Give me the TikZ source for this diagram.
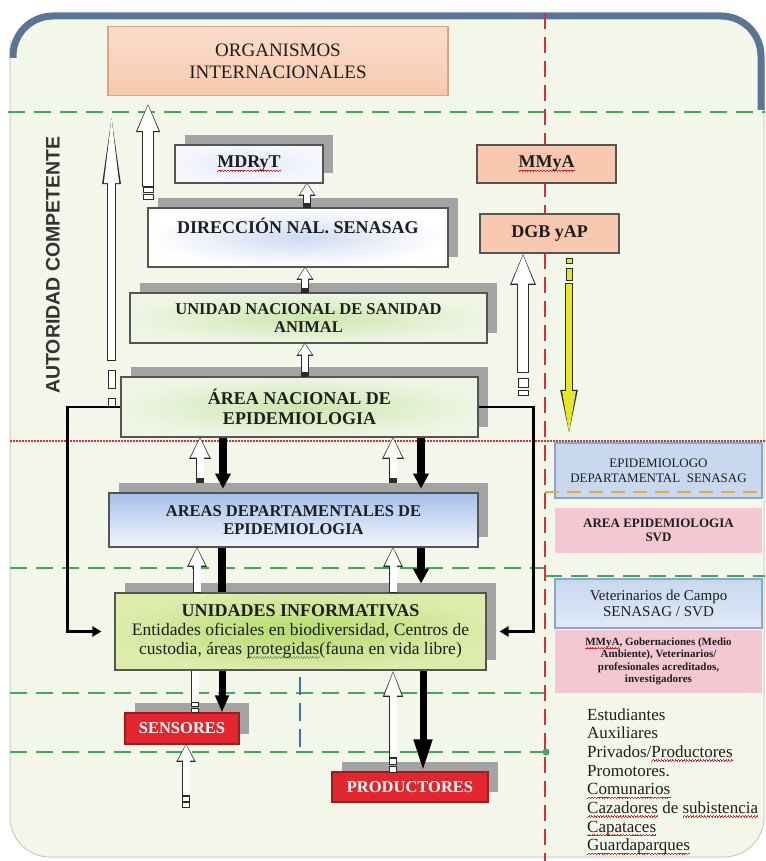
\documentclass[tikz,border=0pt]{standalone}
\usepackage{fontspec}
\setmainfont{Liberation Serif}
\newfontfamily\autfont{Liberation Sans}
\usetikzlibrary{arrows.meta,shadows}

\definecolor{bgfill}{HTML}{F2F7EA}
\definecolor{framegray}{HTML}{C9CCC4}
\definecolor{bluebar}{HTML}{5C7596}
\definecolor{boxline}{HTML}{555555}
\definecolor{txt}{HTML}{1E1E1E}
\definecolor{autgray}{HTML}{333333}
\definecolor{shadowgray}{HTML}{A3A3A3}
\definecolor{salmon}{HTML}{F8C9AE}
\definecolor{salmonlt}{HTML}{FBDDCC}
\definecolor{salmonln}{HTML}{E2A384}
\definecolor{sepgreen}{HTML}{41AC55}
\definecolor{sepred}{HTML}{D42F3B}
\definecolor{sepblue}{HTML}{3E6FBF}
\definecolor{seporange}{HTML}{F0A733}
\definecolor{arrline}{HTML}{2B2B2B}
\definecolor{paleblue}{HTML}{F5F7FC}
\definecolor{cloudblue}{HTML}{CFDBF2}
\definecolor{palegreen}{HTML}{EEF5E4}
\definecolor{cloudgreen}{HTML}{CDE6AE}
\definecolor{depttop}{HTML}{A6C0EA}
\definecolor{deptbot}{HTML}{F2F6FC}
\definecolor{uiout}{HTML}{DDEBAB}
\definecolor{uiin}{HTML}{B5DC6C}
\definecolor{alarm}{HTML}{E3252D}
\definecolor{alarmln}{HTML}{9E1A1F}
\definecolor{epiblue}{HTML}{C7D8EF}
\definecolor{epiln}{HTML}{8CA6C7}
\definecolor{rosa}{HTML}{F3C8D2}
\definecolor{arryellow}{HTML}{E6E622}
\definecolor{spellred}{HTML}{E0202A}
\definecolor{gramgreen}{HTML}{7FA07F}

% wavy proofing marks under words
\newsavebox\wavybox
\newcommand\wavy[2]{\sbox\wavybox{#2}\rlap{\textcolor{#1}{\hbox to \wd\wavybox{\xleaders\hbox{\rule[-3.8pt]{0.7pt}{0.7pt}\rule[-3.2pt]{0.7pt}{0.7pt}\rule[-2.6pt]{0.7pt}{0.7pt}\rule[-3.2pt]{0.7pt}{0.7pt}}\hfill}}}\usebox\wavybox}
\newcommand\spell[1]{\wavy{spellred}{#1}}
\newcommand\gram[1]{\wavy{gramgreen}{#1}}

\pgfdeclarelayer{bg}
\pgfdeclarelayer{under}
\pgfsetlayers{bg,under,main}

\tikzset{
  box/.style={draw=boxline, line width=1.2pt, inner sep=0pt, align=center, text=txt},
  shad/.style={drop shadow={shadow xshift=10pt, shadow yshift=10pt, fill=shadowgray, opacity=1}},
  big/.style={font=\bfseries\fontsize{18}{20}\selectfont},
  mid/.style={font=\bfseries\fontsize{16.5}{18}\selectfont},
  alarmbox/.style={box, draw=alarmln, fill=alarm, text=white, font=\bfseries\fontsize{16.5}{18}\selectfont},
  side/.style={inner sep=0pt, align=center, text=txt, minimum width=207},
  gdash/.style={sepgreen, line width=2.6pt, dash pattern=on 17pt off 9pt},
  rdash/.style={sepred, line width=2.5pt, dash pattern=on 16pt off 8pt},
  rdot/.style={sepred, line width=2pt, dash pattern=on 1.5pt off 1.5pt},
  odash/.style={seporange, line width=2.2pt, dash pattern=on 14pt off 8pt},
  bdash/.style={sepblue, line width=1.8pt, dash pattern=on 18pt off 8pt},
  dn/.style n args={3}{black, line width=#1pt, -{Triangle[length=#3pt,width=#2pt]}},
  link/.style={black, line width=2.6pt, -{Triangle[length=9pt,width=10pt]}},
  stripe/.style={draw=arrline, line width=0.9pt},
  hbar/.style={draw=white, line width=7pt, preaction={draw=arrline, line width=8.8pt}},
  hollow/.code n args={4}{%
    \pgfmathsetmacro\hsw{#1+1.8}%
    \pgfmathsetmacro\hhw{#2+3}%
    \pgfmathsetmacro\hhl{#3+2.2}%
    \tikzset{draw=#4, line width=#1pt, -{Triangle[length=#3pt,width=#2pt]},
      preaction={draw=arrline, line width=\hsw pt, -{Triangle[length=\hhl pt,width=\hhw pt]},
        shorten >=-1pt, shorten <=-0.9pt}}},
}

\begin{document}
\begin{tikzpicture}[x=1pt,y=-1pt]
\useasboundingbox (0,0) rectangle (765,861);

\begin{pgfonlayer}{bg}
% frame
\fill[bgfill, rounded corners=40pt] (10,14) rectangle (764,857);
\draw[framegray, line width=1pt, rounded corners=40pt] (10,40) -- (10,857) -- (764,857) -- (764,60);
\draw[bluebar, line width=7pt, rounded corners=40pt] (13,58) -- (13,16) -- (761,16) -- (761,110);

% separators
\draw[gdash] (8,112) -- (765,112);
\draw[gdash] (10,568) -- (545,568);
\draw[gdash] (545,576) -- (765,576);
\draw[gdash] (10,693) -- (545,693);
\draw[gdash] (10,752) -- (545,752);
\fill[sepgreen] (546,752) circle[radius=3.5pt];
\draw[rdot] (10,441) -- (765,441);
\draw[bdash] (300,677) -- (300,753);
\draw[rdash] (545,13) -- (545,861);
\end{pgfonlayer}

\node[rotate=90, text=autgray, font=\autfont\bfseries\fontsize{19.5}{20}\selectfont] (aut) at (53,265) {AUTORIDAD COMPETENTE};

% main column
\node[box, draw=salmonln, top color=salmonlt, bottom color=salmon, minimum width=340, minimum height=69,
  font=\fontsize{19}{22}\selectfont] (org) at (278,61) {ORGANISMOS\\INTERNACIONALES};
\node[box, shad, inner color=cloudblue!60, outer color=paleblue, minimum width=148, minimum height=38, big] (mdr) at (249,164) {\spell{MDRyT}};
\node[box, shad, inner color=cloudblue, outer color=white, minimum width=300, minimum height=59, big] (dir) at (298,237.5) {DIRECCIÓN NAL. SENASAG\\[4pt]\mbox{}};
\node[box, shad, inner color=cloudgreen, outer color=palegreen, minimum width=357, minimum height=50, mid] (uns) at (308.5,318) {UNIDAD NACIONAL DE SANIDAD\\ANIMAL};
\node[box, shad, inner color=cloudgreen, outer color=palegreen, minimum width=357, minimum height=60, big] (ane) at (299.5,407) {ÁREA NACIONAL DE\\EPIDEMIOLOGIA};
\node[box, shad, top color=depttop, bottom color=deptbot, minimum width=369, minimum height=54, mid] (ade) at (293.5,520) {AREAS DEPARTAMENTALES DE\\EPIDEMIOLOGIA};
\node[box, shad, inner color=uiin, outer color=uiout, minimum width=371, minimum height=77,
  font=\fontsize{17.5}{19}\selectfont] (uni) at (300.5,631.5)
  {{\bfseries\fontsize{18}{19}\selectfont UNIDADES INFORMATIVAS}\\Entidades oficiales en biodiversidad, Centros de\\custodia, áreas \gram{protegidas}(fauna en vida libre)};
\node[alarmbox, shad, minimum width=114, minimum height=31] (sen) at (182,728.5) {SENSORES};
\node[alarmbox, shad, minimum width=156, minimum height=30] (pro) at (410,787) {PRODUCTORES};

% ministries
\node[box, fill=salmon, minimum width=139, minimum height=38, big] (mma) at (546.5,164) {\spell{MMyA}};
\node[box, fill=salmon, minimum width=139, minimum height=39, big] (dgb) at (549.5,233.5) {DGB yAP};

% right column
\node[side, draw=epiln, line width=1.2pt, fill=epiblue, minimum height=55, font=\fontsize{13}{15}\selectfont] (epi) at (658.5,470.5) {EPIDEMIOLOGO\\DEPARTAMENTAL\ \ SENASAG};
\draw[odash] (545,492) -- (762,492);
\node[side, fill=rosa, minimum height=45, font=\bfseries\fontsize{13}{14.5}\selectfont] (svd) at (658.5,530.5) {AREA EPIDEMIOLOGIA\\SVD};
\node[side, draw=epiln, line width=1.2pt, top color=epiblue, bottom color=epiblue!55!white, minimum height=49, font=\fontsize{15}{15.5}\selectfont] (vet) at (658.5,603.5) {Veterinarios de Campo\\SENASAG / SVD};
\node[side, fill=rosa, minimum height=63, font=\bfseries\fontsize{11}{12.5}\selectfont] (gob) at (658.5,661.5) {\spell{MMyA}, Gobernaciones (Medio\\Ambiente), Veterinarios/\\profesionales acreditados,\\investigadores};
\node[anchor=north west, inner sep=0pt, align=left, text=txt, font=\fontsize{17}{18.7}\selectfont] (lst) at (587,708)
  {Estudiantes\\Auxiliares\\Privados/\spell{Productores}\\Promotores.\\\spell{Comunarios}\\\spell{Cazadores} de \spell{subistencia}\\\spell{Capataces}\\\spell{Guardaparques}};

% arrows hidden under the departmental box
\begin{pgfonlayer}{under}
\draw[hollow={7}{17}{20}{white}] ([xshift=-93.5pt]ade.north) -- ([xshift=-93.5pt]ade.north |- ane.south);
\draw[hollow={7}{17}{20}{white}] ([xshift=99.5pt]ade.north) -- ([xshift=99.5pt]ade.north |- ane.south);
\fill[arrline] (196.5,478) rectangle (203.5,483);
\fill[arrline] (389.5,478) rectangle (396.5,483);
\end{pgfonlayer}

% small upward arrows
\draw[hollow={6}{13}{11}{white}] ([xshift=9pt]dir.north) -- ([xshift=9pt]dir.north |- mdr.south);
\draw[hollow={6}{13}{11}{white}] ([xshift=-3.5pt]uns.north) -- ([xshift=-3.5pt]uns.north |- dir.south);
\draw[hollow={6}{13}{11}{white}] ([xshift=5.5pt]ane.north) -- ([xshift=5.5pt]ane.north |- uns.south);
\fill[arrline] (304,203) rectangle (310,208);
\fill[arrline] (302,288) rectangle (308,293);
\fill[arrline] (302,372) rectangle (308,377);
\draw[hollow={7}{15}{18}{white}] ([xshift=-103.5pt]uni.north) -- ([xshift=-103.5pt]uni.north |- ade.south);
\draw[hollow={7}{15}{18}{white}] ([xshift=92.5pt]uni.north) -- ([xshift=92.5pt]uni.north |- ade.south);

% downward flow
\draw[dn={8}{15}{15}] ([xshift=-76.5pt]ane.south) -- ++(0,51);
\draw[dn={8}{15}{15}] ([xshift=121.5pt]ane.south) -- ++(0,51);
\draw[black, line width=8pt] ([xshift=-71.5pt]ade.south) -- ++(0,44);
\draw[dn={8}{15}{15}] ([xshift=127.5pt]ade.south) -- ++(0,36);
\draw[dn={7}{13}{17}] ([xshift=-78.5pt]uni.south) -- ([xshift=-78.5pt]uni.south |- sen.north);
\draw[dn={7}{17}{32}] ([xshift=122.5pt]uni.south) -- ([xshift=122.5pt]uni.south |- pro.north);

% sensors and producers
\draw[hbar] ([xshift=-105.5pt]uni.south) -- ++(0,32);
\draw[stripe, fill=white] (191.5,702) rectangle (198.5,706.5);
\draw[stripe, fill=white] (191.5,708) rectangle (198.5,712);
\coordinate (sentail) at (186,795);
\draw[hollow={7}{15}{16}{white}] (sentail) -- (sentail |- sen.south);
\draw[stripe, fill=white] (182.5,796) rectangle (189.5,801);
\draw[stripe, fill=white] (182.5,802.5) rectangle (189.5,807);
\coordinate (protail) at (393,757);
\draw[hollow={7}{15}{25}{white}] (protail) -- (protail |- uni.south);
\draw[stripe, fill=white] (389.5,758) rectangle (396.5,764);
\draw[stripe, fill=white] (389.5,766) rectangle (396.5,772);

% up to the international level
\coordinate (auttail) at (111.5,360);
\coordinate (auttip) at (111.5,107);
\draw[hollow={7}{13}{76}{white}] (auttail) -- (auttip);
\draw[stripe, fill=white] (108,370) rectangle (115,388);
\draw[stripe, fill=white] (108,398) rectangle (115,407);
\coordinate (mdrtail) at (148,186);
\coordinate (mdrtip) at (148,104);
\draw[hollow={10}{19}{27}{white}] (mdrtail) -- (mdrtip);
\draw[stripe, fill=white] (143,187) rectangle (153,192);
\draw[stripe, fill=white] (143,194) rectangle (153,199);

% environment ministry branch
\coordinate (dgbtail) at (523,372);
\draw[hollow={10}{20}{30}{white}] (dgbtail) -- (dgbtail |- dgb.south);
\draw[stripe, fill=white] (518,378) rectangle (528,387);
\draw[stripe, fill=white] (518,390) rectangle (528,395);
\coordinate (ytail) at (569,284);
\coordinate (ytip) at (569,438);
\draw[hollow={6}{12}{47}{arryellow}] (ytail) -- (ytip);
\draw[stripe, fill=arryellow] (566,258) rectangle (572,263);
\draw[stripe, fill=arryellow] (566,268) rectangle (572,280);

% feedback to the informants
\draw[link] (ane.west) -- ++(-53,0) |- ([xshift=-13pt]uni.west);
\draw[link] (ane.east) -- ++(55,0) |- ([xshift=13pt]uni.east);
\end{tikzpicture}
\end{document}
